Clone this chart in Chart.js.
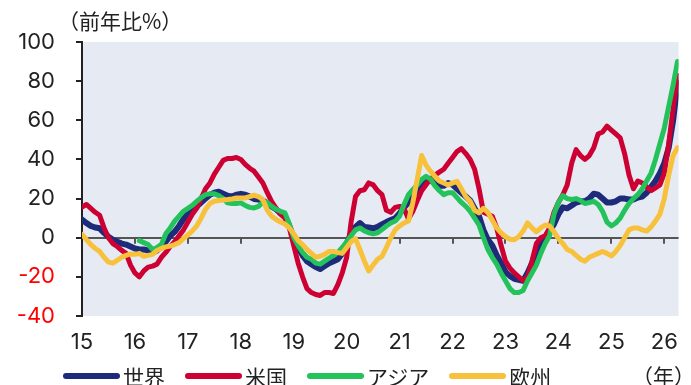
<!DOCTYPE html>
<html lang="ja">
<head>
<meta charset="utf-8">
<title>地域別 前年比</title>
<script src="https://cdn.jsdelivr.net/npm/chart.js@4/dist/chart.umd.min.js"></script>
<style>
  body { margin: 0; background: #fff; }
  #wrap { position: relative; width: 691px; height: 385px; font-family: "Noto Sans CJK JP", "Noto Sans", sans-serif; color: #222; }
  #chart { position: absolute; left: 0; top: 0; }
  .unit { position: absolute; left: 58px; top: 5px; font-size: 21px; }
  .nen { position: absolute; left: 632px; top: 360px; font-size: 21px; }
  .legend { position: absolute; left: 63px; top: 361px; display: flex; align-items: center; font-size: 21px; }
  .legend .item { display: flex; align-items: center; margin-right: 20px; }
  .legend .swatch { width: 57px; height: 6px; border-radius: 3px; margin-right: 3px; }
</style>
</head>
<body>
<div id="wrap">
  <canvas id="chart" width="691" height="385"></canvas>
  <div class="unit">（前年比%）</div>
  <div class="nen">（年）</div>
  <div class="legend" id="legend"></div>
</div>
<script>
// monthly values from Jan 2015, yoy %
const startYear = 2015;
const yearTicks = [15, 16, 17, 18, 19, 20, 21, 22, 23, 24, 25, 26];

const world = [
  9.3, 7.5, 6, 5.2, 4.8, 2.5, 0.5, -1, -2, -3,
  -3.5, -4.5, -5.5, -6, -6, -6.5, -7.5, -6.5, -4, -2,
  1, 3, 6, 9.5, 12.5, 14.5, 16, 18, 20, 22,
  23, 23.5, 22.5, 21.5, 21, 22, 22.4, 22, 21, 19.8,
  19.5, 19, 17.5, 16, 14.5, 12.5, 11, 6, 0, -5,
  -9, -12, -13.5, -15, -16, -14.5, -13, -12, -11, -8,
  -3, 2, 5.5, 7.5, 5.5, 5.2, 4.8, 5.5, 6.8, 8,
  9, 10, 12.5, 15.5, 18, 21.5, 24, 26, 28.5, 29.7,
  27.5, 26.5, 26.5, 28, 27, 25, 23, 21, 19, 15,
  11, 4, -1, -4, -9, -13, -17.5, -19.5, -21, -21.5,
  -22, -18, -13, -8, -3.5, 0, 3.5, 7, 12, 15.5,
  15, 16.5, 18, 18.6, 18.6, 20, 22.5, 22, 20, 18,
  18, 18.6, 20, 20, 19.5, 19.5, 20.5, 21, 23, 26,
  29, 33, 38, 46, 60, 79
];

const usa = [
  15.6, 17, 15, 13, 11.5, 5, 0, -3, -4.5, -6.5,
  -8, -14, -18, -20, -17, -15, -14.5, -13.5, -10, -7.5,
  -4.5, -2, 1, 4, 8, 12, 15, 20, 25, 28,
  32.5, 36, 39.5, 40.5, 40.5, 41, 40, 37.5, 35.5, 34,
  31, 28, 23, 18.5, 15, 12, 10, 5, -4, -13,
  -20, -26, -28, -29, -29.5, -28, -28, -28.5, -24, -18,
  -10, 8, 21, 24, 24.5, 28, 27, 24, 22, 14,
  13, 15.5, 16, 15, 9.5, 13.5, 19, 24, 27, 30,
  32, 33.5, 35, 38, 41, 44, 45.5, 43, 40, 35,
  25, 13, 12, 11, 5, -4, -12, -15.5, -18, -20,
  -22, -20, -12, -3, 0, 1, 5, 13, 18, 22,
  27, 38, 45, 42, 40, 42, 46, 53, 54, 57,
  55, 53, 51, 43, 32, 25, 29, 28, 26, 24,
  25.5, 27, 33, 48, 66, 83
];

const asia = [
  null, null, null, null, null, null, null, null, null, null,
  null, null, null, -1.5, -2.5, -3.5, -6, -5, -3.4, 2,
  5, 8.5, 11, 13.5, 15, 16.5, 18.6, 20.5, 22, 22.4,
  22.4, 21.5, 20, 17.8, 17.5, 17.5, 17.8, 16.5, 15.5, 15.2,
  16, 18, 18, 16, 14.5, 13.5, 12.7, 7, 0, -4,
  -7.5, -10, -11, -13, -13.5, -12, -10.5, -9, -7.5, -5,
  -2, 1, 4, 5, 3.5, 2.5, 2, 2.5, 4.2, 6,
  7.5, 8.5, 11, 17, 22, 24.5, 27, 29.7, 31.4, 30,
  26.5, 24, 22, 23, 23, 20.5, 18, 16, 13.5, 10,
  6.5, 0, -6, -10, -13.5, -18, -22, -26, -28, -28,
  -27, -22, -18, -14, -8, -3, 1, 12, 18, 21.5,
  20, 19.5, 20, 19, 17.5, 18, 18.6, 17, 13.5, 8,
  6, 7.5, 10, 14, 17.5, 20, 22, 25, 29, 33,
  40, 48, 56, 67, 78, 90
];

const europe = [
  1.7, -1, -3.5, -5.5, -7, -10, -12.5, -13, -11.5, -10,
  -9, -8.3, -8.5, -8, -9.5, -9, -8.5, -6.5, -5.5, -4.7,
  -4.3, -3.5, -2.5, -0.5, 1.5, 3.5, 6, 10, 14.5, 17.5,
  18.6, 19, 19.3, 19.5, 19.8, 20.3, 20.3, 20.3, 21, 21.7,
  21, 19.5, 14, 11, 9.3, 8, 7, 5, 2, -1.5,
  -3.5, -6, -8, -10, -9.5, -8.5, -7, -7, -7.6, -8,
  -5, -2, -0.5, -6, -12, -17, -14, -11, -9.5, -5,
  0, 4, 6, 7.5, 8.5, 18, 30, 42, 37, 34,
  31.4, 29, 28, 27, 28, 28.8, 25, 21, 18.6, 14,
  12.7, 15, 13, 9, 5, 2.5, 0.5, -0.8, -1, 0.5,
  3.4, 7.6, 5, 3, 5, 6.5, 6, 3, -0.5, -3,
  -6, -7, -9, -11, -12, -10, -9, -8, -7, -8,
  -9.3, -7, -4, 0, 4, 5, 5, 4, 3.4, 5.5,
  8.5, 12, 20, 32, 42, 46
];

const months = world.map((_, i) => startYear + i / 12);

const series = [
  { name: "世界", values: world, color: "#1d2b7a", width: 6, order: 4 },
  { name: "米国", values: usa, color: "#cc0033", width: 5, order: 3 },
  { name: "アジア", values: asia, color: "#24c25a", width: 5, order: 2 },
  { name: "欧州", values: europe, color: "#f7c13c", width: 5, order: 1 }
];

// plot background + little ticks hanging off the zero line
const plotDecor = {
  id: "plotDecor",
  beforeDraw(chart) {
    const { ctx, chartArea } = chart;
    ctx.save();
    ctx.fillStyle = "#e6eaf2";
    ctx.fillRect(chartArea.left, chartArea.top, chartArea.right - chartArea.left, chartArea.bottom - chartArea.top);
    ctx.restore();
  },
  beforeDatasetsDraw(chart) {
    const { ctx, scales } = chart;
    const y0 = scales.y.getPixelForValue(0);
    ctx.save();
    ctx.strokeStyle = "#555";
    ctx.lineWidth = 2;
    scales.x.ticks.forEach(t => {
      if (t.value === startYear) return;
      const px = Math.round(scales.x.getPixelForValue(t.value));
      ctx.beginPath();
      ctx.moveTo(px, y0);
      ctx.lineTo(px, y0 + 6);
      ctx.stroke();
    });
    ctx.restore();
  }
};

const tickFont = { family: "Inter, 'Noto Sans', sans-serif", size: 22 };

new Chart(document.getElementById("chart"), {
  type: "line",
  data: {
    labels: months,
    datasets: series.map(s => ({
      label: s.name,
      data: s.values,
      borderColor: s.color,
      backgroundColor: s.color,
      borderWidth: s.width,
      borderJoinStyle: "round",
      borderCapStyle: "round",
      pointRadius: 0,
      tension: 0,
      spanGaps: false,
      order: s.order
    }))
  },
  options: {
    responsive: false,
    animation: false,
    devicePixelRatio: 1,
    layout: { padding: { top: 42, right: 7, bottom: 0, left: 0 } },
    plugins: {
      legend: { display: false },
      tooltip: { enabled: false }
    },
    scales: {
      x: {
        type: "linear",
        min: startYear,
        max: 2026.27,
        grid: { display: false, drawTicks: false },
        border: { display: false },
        ticks: {
          stepSize: 1,
          includeBounds: false,
          autoSkip: false,
          maxRotation: 0,
          padding: 13,
          color: "#222",
          font: tickFont,
          callback: v => yearTicks.includes(v - 2000) ? String(v - 2000) : ""
        },
        afterFit: s => { s.height = 69; }
      },
      y: {
        min: -40,
        max: 100,
        grid: {
          drawOnChartArea: true,
          color: c => (c.tick && c.tick.value === 0 ? "#555" : "transparent"),
          lineWidth: 2,
          tickColor: "#222",
          tickLength: 6,
          tickWidth: 2
        },
        border: { display: true, color: "#222", width: 2 },
        ticks: {
          stepSize: 20,
          padding: 21,
          font: tickFont,
          color: c => (c.tick.value < 0 ? "#ff0000" : "#222")
        },
        afterFit: s => { s.width = 82; }
      }
    }
  },
  plugins: [plotDecor]
});

// legend
const legendEl = document.getElementById("legend");
series.forEach(s => {
  const item = document.createElement("div");
  item.className = "item";
  const sw = document.createElement("span");
  sw.className = "swatch";
  sw.style.background = s.color;
  const txt = document.createElement("span");
  txt.textContent = s.name;
  item.appendChild(sw);
  item.appendChild(txt);
  legendEl.appendChild(item);
});
</script>
</body>
</html>
